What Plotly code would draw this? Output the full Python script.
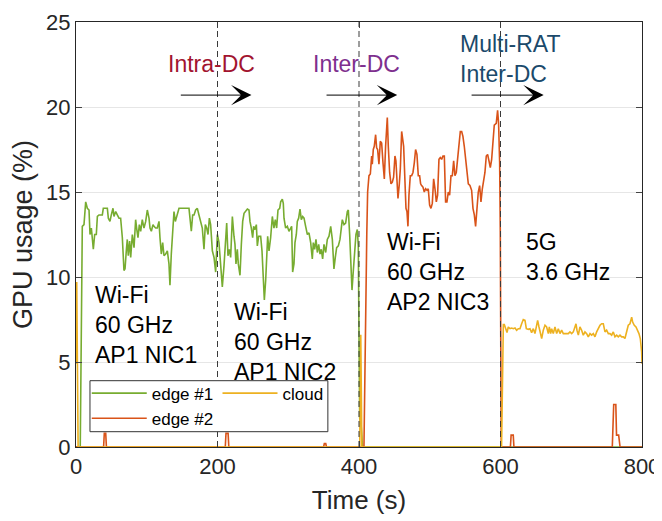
import plotly.graph_objects as go

# ---------------- data ----------------
edge1_time = [
    0, 6, 8.9, 11.3, 13.7, 16.0, 18.4, 19.8, 21.7, 23.1,
    24.5, 26.4, 28.7, 30.2, 32.5, 37.2, 38.6, 41.9, 44.3, 45.7,
    48.0, 49.9, 52.3, 53.7, 56.1, 58.4, 60.8, 63.1, 65.5, 67.8,
    69.3, 71.1, 72.5, 73.9, 75.8, 77.3, 79.6, 82.0, 84.3, 85.7,
    87.6, 89.5, 91.4, 93.7, 96.1, 98.5, 100.8, 103.2, 104.6, 106.5,
    108.8, 110.2, 112.6, 114.9, 117.3, 118.7, 120.6, 122.5, 124.4, 126.7,
    129.1, 131.4, 132.8, 134.7, 136.6, 138.5, 140.4, 143.2, 145.6, 150.3,
    155.0, 159.7, 161.1, 163.0, 164.9, 166.8, 169.1, 171.5, 173.8, 176.2,
    178.5, 180.9, 182.8, 184.7, 186.6, 188.5, 190.3, 192.7, 195.1, 197.4,
    199.8, 202.1, 204.5, 206.8, 209.2, 210.6, 213.0, 214.8, 216.7, 218.6,
    221.0, 223.3, 224.7, 226.1, 228.0, 229.4, 231.8, 233.7, 235.6, 237.5,
    239.8, 242.2, 244.5, 245.9, 247.8, 249.7, 251.1, 253.0, 254.9, 256.3,
    258.2, 261.0, 262.9, 264.8, 266.2, 268.1, 269.5, 270.9, 272.8, 275.1,
    277.5, 279.8, 281.7, 283.6, 285.5, 287.9, 289.3, 291.6, 293.0, 294.0,
    296.3, 298.7, 301.0, 303.4, 304.8, 306.2, 308.1, 309.5, 311.4, 312.8,
    314.7, 316.6, 318.5, 320.4, 322.3, 324.6, 327.0, 329.3, 331.7, 334.0,
    335.4, 337.3, 339.2, 341.1, 343.0, 344.9, 346.7, 348.6, 350.5, 352.9,
    355.2, 357.6, 360.0, 362.3, 364.6, 366.5, 368.4, 370.8, 373.1, 375.0,
    376.4, 378.8, 381.1, 383.5, 384.9, 386.8, 388.2, 390.1, 392.0, 393.9,
    395.7, 397.6, 399.0, 400.0, 401.0, 403.0, 405.0, 800,
]
edge1_gpu = [
    0, 0, 12.98, 13.08, 14.42, 14.04, 13.94, 12.5, 12.88, 12.31,
    11.63, 12.5, 12.5, 13.56, 13.65, 13.65, 14.04, 14.04, 14.04, 13.46,
    13.27, 13.65, 14.04, 13.56, 13.85, 13.65, 13.46, 13.46, 12.31, 10.38,
    10.48, 11.54, 12.21, 11.25, 12.12, 11.15, 12.5, 11.73, 13.37, 12.88,
    12.31, 13.08, 12.69, 13.37, 12.88, 13.27, 13.94, 13.46, 12.88, 12.69,
    13.08, 12.98, 12.88, 12.88, 13.27, 12.31, 11.35, 12.02, 11.25, 11.35,
    11.54, 10.77, 9.52, 11.35, 12.5, 13.85, 13.27, 13.65, 14.04, 14.04,
    14.04, 14.04, 13.46, 12.69, 13.65, 13.65, 13.94, 14.04, 13.65, 13.27,
    12.88, 11.63, 13.08, 12.88, 12.5, 13.46, 13.08, 11.54, 11.15, 10.29,
    12.5, 12.02, 10.77, 9.42, 10.67, 11.63, 13.17, 11.25, 11.63, 11.15,
    13.56, 12.4, 11.92, 10.77, 11.63, 10.77, 10.1, 11.92, 13.27, 13.75,
    13.85, 14.0, 13.94, 13.27, 12.88, 12.31, 12.98, 12.79, 13.08, 11.83,
    12.4, 12.4, 11.54, 10.19, 8.65, 9.81, 11.54, 12.4, 11.54, 12.31,
    13.56, 12.88, 13.37, 12.88, 13.94, 14.04, 14.42, 14.58, 14.33, 13.46,
    12.88, 12.98, 12.69, 12.88, 12.98, 10.29, 10.77, 12.02, 12.5, 13.27,
    13.46, 14.0, 13.37, 13.56, 13.46, 12.98, 12.5, 12.6, 12.02, 11.06,
    12.02, 11.63, 12.21, 11.44, 11.92, 11.35, 11.63, 11.06, 11.92, 11.44,
    12.21, 12.4, 12.98, 12.21, 10.48, 11.15, 11.73, 11.83, 12.21, 12.88,
    13.37, 13.08, 13.17, 13.85, 13.94, 12.5, 10.58, 9.23, 10.38, 11.73,
    12.5, 12.79, 11.83, 6.6, 1.7, 1.3, 0, 0,
]

edge2_time = [
    0, 39, 40, 42, 43, 211, 212, 215, 216, 350,
    351, 353, 354, 407, 411, 412.2, 414.1, 416.0, 417.9, 418.8,
    420.2, 421.6, 423.5, 424.9, 426.3, 428.2, 430.1, 432.0, 433.9, 435.8,
    437.6, 440.0, 441.4, 443.3, 445.2, 447.1, 448.9, 450.8, 452.2, 453.7,
    455.1, 457.0, 458.4, 460.3, 461.7, 463.1, 465.0, 466.4, 467.8, 469.2,
    470.6, 472.5, 474.4, 476.3, 478.2, 480.0, 481.9, 483.8, 485.7, 487.1,
    488.5, 490.4, 492.3, 494.2, 496.1, 497.9, 499.8, 501.7, 503.6, 505.5,
    507.4, 509.3, 511.1, 513.0, 514.9, 516.8, 518.7, 520.6, 522.4, 524.3,
    526.2, 528.1, 530.0, 531.9, 533.8, 535.6, 537.5, 539.4, 541.3, 543.2,
    545.1, 546.9, 548.8, 550.7, 552.6, 554.5, 556.8, 559.2, 561.1, 563.0,
    564.8, 566.7, 568.6, 570.5, 572.4, 574.3, 576.1, 578.0, 579.9, 581.8,
    583.7, 585.6, 587.5, 589.3, 591.2, 594.0, 595.9, 597.3, 598.8, 599.7,
    601, 614, 615, 618, 619, 758, 760, 763, 764, 767,
    769, 800,
]
edge2_gpu = [
    0, 0, 0.8, 0.8, 0, 0, 0.8, 0.8, 0, 0,
    0.2, 0.2, 0, 0, 12.5, 15.0, 15.96, 16.06, 17.12, 16.63,
    17.5, 17.69, 18.37, 17.6, 17.5, 16.63, 17.98, 17.88, 16.73, 15.77,
    17.69, 19.38, 17.69, 16.15, 15.48, 15.58, 15.87, 17.12, 16.83, 15.48,
    14.62, 15.48, 16.35, 18.56, 17.88, 17.69, 15.58, 14.04, 13.85, 12.98,
    14.81, 15.96, 15.96, 16.15, 16.73, 17.5, 17.21, 15.96, 15.96, 15.48,
    15.38, 15.29, 15.0, 15.19, 15.1, 15.19, 14.23, 14.04, 14.33, 15.77,
    15.19, 14.42, 14.81, 16.92, 17.02, 16.92, 17.12, 17.12, 14.42, 14.42,
    15.0, 14.81, 15.96, 15.96, 16.83, 15.96, 16.15, 17.12, 17.69, 18.56,
    18.56, 18.27, 17.69, 16.92, 16.25, 15.48, 15.38, 15.1, 14.04, 13.65,
    12.98, 14.04, 15.0, 15.38, 14.42, 15.19, 15.58, 16.15, 17.12, 17.21,
    16.83, 16.44, 16.92, 18.08, 18.94, 19.04, 19.81, 19.04, 16.73, 12.6,
    0, 0, 0.7, 0.7, 0, 0, 2.5, 2.5, 0.7, 0.7,
    0, 0,
]

cloud_time = [
    0, 1, 3, 401, 402.5, 404, 601.5, 604, 605.4, 607.3,
    609.2, 611.0, 613.4, 615.8, 618.1, 620.5, 622.8, 625.2, 627.5, 629.9,
    632.2, 634.6, 636.5, 639.3, 641.7, 644.0, 646.4, 648.7, 651.1, 652.5,
    654.4, 656.3, 658.2, 660.5, 662.9, 665.2, 667.6, 669.0, 670.9, 672.3,
    674.6, 677.0, 679.4, 681.7, 684.1, 686.4, 688.8, 691.1, 693.5, 695.8,
    698.2, 700.6, 702.9, 705.3, 706.7, 708.1, 710.0, 712.3, 714.7, 717.0,
    719.4, 721.8, 724.1, 726.5, 728.8, 731.2, 733.5, 735.9, 738.2, 740.6,
    743.0, 745.3, 747.7, 750.0, 752.4, 754.7, 757.1, 759.4, 761.8, 764.2,
    766.5, 768.9, 771.2, 773.6, 775.9, 778.3, 780.6, 783.0, 785.4, 786.8,
    789.1, 791.5, 793.8, 795.7, 797.6, 799.5, 800,
]
cloud_gpu = [
    4.9, 9.7, 0, 0, 6.6, 0, 0, 7.2, 7.2, 6.96,
    6.73, 7.06, 6.96, 7.0, 6.96, 7.0, 6.87, 6.96, 6.96, 7.25,
    7.5, 7.45, 6.96, 6.92, 6.96, 6.73, 6.96, 6.67, 7.16, 7.45,
    7.06, 6.77, 6.38, 6.87, 7.16, 7.06, 6.67, 7.06, 6.67, 6.96,
    6.67, 7.06, 6.67, 6.96, 6.67, 6.87, 6.67, 6.67, 6.67, 6.67,
    6.77, 6.67, 6.77, 7.16, 7.25, 6.87, 6.58, 7.06, 6.87, 6.58,
    6.77, 6.67, 6.48, 6.67, 6.58, 6.67, 6.48, 6.77, 6.96, 7.16,
    7.25, 7.25, 6.77, 6.87, 6.67, 6.67, 6.58, 6.77, 6.48, 6.58,
    6.48, 6.58, 6.48, 6.48, 6.38, 6.77, 7.16, 7.25, 7.64, 7.35,
    7.16, 7.06, 6.87, 6.67, 6.38, 5.6, 4.9,
]

x_ticks = [0, 200, 400, 600, 800]
y_ticks = [0, 5, 10, 15, 20, 25]
phase_bounds = [200, 400, 600]

# handover arrows: (tail time, head time, level)
arrow_tails = [146, 352, 557]
arrow_heads = [248, 454, 661]
arrow_level = 20.7

phase_labels = ["Intra-DC", "Inter-DC", "Multi-RAT<br>Inter-DC"]
phase_label_x = [191, 396, 540]
phase_label_y = [22.55, 22.55, 22.85]
phase_label_colors = ["#A2142F", "#7E2F8E", "#1B4A6B"]
phase_label_anchor = ["center", "center", "left"]

link_labels = ["Wi-Fi<br>60 GHz<br>AP1 NIC1", "Wi-Fi<br>60 GHz<br>AP1 NIC2",
               "Wi-Fi<br>60 GHz<br>AP2 NIC3", "5G<br>3.6 GHz"]
link_label_x = [24, 220, 437, 633]
link_label_y = [7.2, 6.2, 10.3, 11.2]

FONT = "Arial, 'Liberation Sans', Helvetica, sans-serif"
AX = "#262626"

fig = go.Figure()
fig.add_trace(go.Scatter(x=edge1_time, y=edge1_gpu, mode="lines", name="edge #1",
                         line=dict(color="#77AC30", width=1.6), legend="legend"))
fig.add_trace(go.Scatter(x=edge2_time, y=edge2_gpu, mode="lines", name="edge #2",
                         line=dict(color="#D95319", width=1.6), legend="legend"))
fig.add_trace(go.Scatter(x=cloud_time, y=cloud_gpu, mode="lines", name="cloud",
                         line=dict(color="#EDB120", width=1.6), legend="legend2"))

for b in phase_bounds:
    fig.add_vline(x=b, line=dict(color="#3a3a3a", width=1, dash="6px,4px"), layer="above")

for t0, t1 in zip(arrow_tails, arrow_heads):
    fig.add_annotation(x=t1, y=arrow_level, ax=t0, ay=arrow_level, xref="x", yref="y",
                       axref="x", ayref="y", showarrow=True, arrowhead=3, arrowsize=3.4,
                       arrowwidth=1, arrowcolor="black", text="")

for txt, x, y, c, a in zip(phase_labels, phase_label_x, phase_label_y,
                           phase_label_colors, phase_label_anchor):
    fig.add_annotation(x=x, y=y, xref="x", yref="y", text=txt, showarrow=False,
                       xanchor=a, yanchor="middle", align="left",
                       font=dict(family=FONT, size=23, color=c))

for txt, x, y in zip(link_labels, link_label_x, link_label_y):
    fig.add_annotation(x=x, y=y, xref="x", yref="y", text=txt, showarrow=False,
                       xanchor="left", yanchor="middle", align="left",
                       font=dict(family=FONT, size=23, color="black"))

# legend box
fig.add_shape(type="rect", xref="paper", yref="paper", x0=0.0247, x1=0.445,
              y0=0.036, y1=0.156, fillcolor="white",
              line=dict(color="#333333", width=1), layer="above")

# the page body adds an 8 px offset, so the figure is 8 px smaller than the window
fig.update_layout(
    width=654, height=513,
    margin=dict(l=68, r=20, t=14, b=74, autoexpand=False),
    plot_bgcolor="white", paper_bgcolor="white",
    font=dict(family=FONT, color=AX),
    showlegend=True,
    legend=dict(x=0.019, y=0.168, xanchor="left", yanchor="top",
                bgcolor="rgba(0,0,0,0)", borderwidth=0, itemwidth=55,
                font=dict(family=FONT, size=17, color="black"), tracegroupgap=0),
    legend2=dict(x=0.25, y=0.168, xanchor="left", yanchor="top",
                 bgcolor="rgba(0,0,0,0)", borderwidth=0, itemwidth=55,
                 font=dict(family=FONT, size=17, color="black")),
    xaxis=dict(range=[0, 800], tickvals=x_ticks, ticks="inside", ticklen=6,
               showline=True, mirror="ticks", linecolor=AX, linewidth=1,
               showgrid=False, zeroline=False, automargin=False,
               ticklabeloverflow="allow",
               tickfont=dict(family=FONT, size=22, color=AX),
               title=dict(text="Time (s)", font=dict(family=FONT, size=26, color=AX),
                          standoff=12)),
    yaxis=dict(range=[0, 25], tickvals=y_ticks, ticks="inside", ticklen=6,
               showline=True, mirror="ticks", linecolor=AX, linewidth=1,
               showgrid=True, gridcolor="#e6e6e6", zeroline=False, automargin=False,
               ticklabeloverflow="allow",
               tickfont=dict(family=FONT, size=22, color=AX),
               title=dict(text="GPU usage (%)", font=dict(family=FONT, size=27, color=AX),
                          standoff=14)),
)

fig.write_html("out.html")
